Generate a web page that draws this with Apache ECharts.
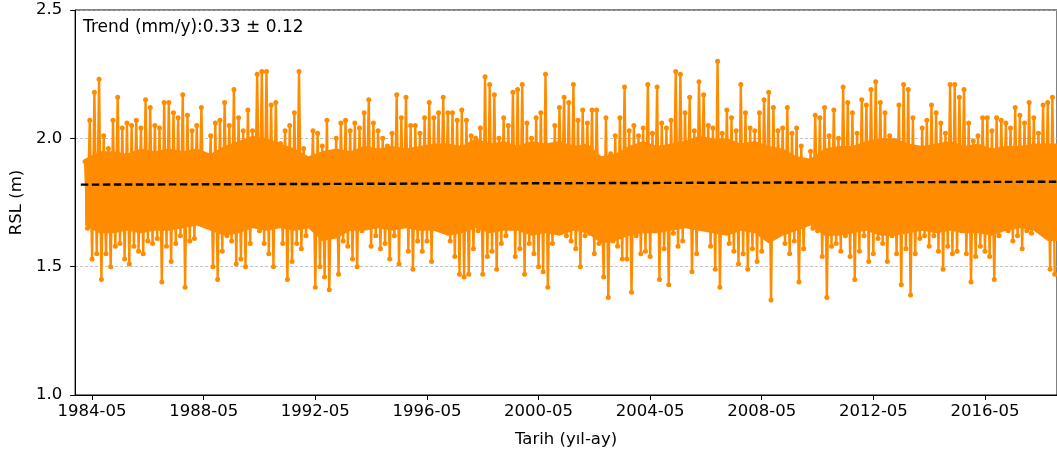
<!DOCTYPE html>
<html>
<head>
<meta charset="utf-8">
<script src="https://cdn.jsdelivr.net/npm/echarts/dist/echarts.min.js"></script>
<style>
html,body{margin:0;padding:0;background:#fff;}
#chart{width:1057px;height:457px;}
</style>
</head>
<body>
<div id="chart"></div>
<script>
// Series start (Feb 1984) and sampling step (2 months) in decimal years
const startYear = 1984 + 1/12;
const stepYears = 1/6;

// Highest RSL (m) in each 2-month window
const highs = [
  1.91,2.07,2.18,2.23,2.01,1.96,2.07,2.16,2.04,2.06,2.05,2.07,2.04,2.15,2.12,2.05,2.04,2.14,
  2.14,2.10,2.08,2.17,2.09,2.03,2.05,2.12,1.91,2.01,2.06,2.07,2.14,2.05,2.19,2.08,2.03,2.11,2.03,2.25,2.26,2.26,
  2.13,2.14,1.98,2.03,2.05,2.10,2.26,1.96,1.91,2.03,2.02,1.97,2.07,1.93,2.00,2.06,2.07,2.03,2.06,2.04,2.10,
  2.15,2.06,2.03,2.00,1.97,2.02,2.17,2.08,2.16,2.05,2.05,2.02,2.08,2.14,2.08,2.10,2.16,2.10,2.10,2.07,2.11,
  2.07,2.01,2.00,2.04,2.24,2.21,2.17,2.00,2.08,2.05,2.18,2.19,2.21,2.06,2.00,2.08,2.10,2.25,1.97,2.05,2.12,
  2.16,2.14,2.21,2.07,2.11,2.06,2.11,2.11,1.89,2.08,1.94,2.01,2.08,2.20,2.03,2.05,2.01,2.04,2.21,2.02,2.20,
  2.06,2.04,2.07,2.26,2.25,2.10,2.16,2.03,2.22,2.17,2.05,2.04,2.30,2.02,2.11,2.08,2.03,2.21,2.10,2.04,2.03,
  2.10,2.15,2.18,2.12,2.03,2.04,2.12,2.02,2.04,1.97,1.91,1.95,2.09,2.08,2.12,2.01,2.11,2.00,2.20,2.14,2.10,
  2.02,2.15,2.13,2.19,2.22,2.14,2.10,2.01,1.99,2.13,2.21,2.19,2.08,1.95,2.04,2.07,2.13,2.10,2.06,2.02,2.21,
  2.21,2.16,2.19,2.06,1.99,2.01,2.08,2.08,2.03,2.08,2.07,2.06,2.04,2.12,2.09,2.06,2.14,2.08,2.02,2.13,2.14,2.16
];

// Lowest RSL (m) in each 2-month window
const lows = [
  1.65,1.53,1.55,1.45,1.55,1.50,1.58,1.59,1.53,1.51,1.58,1.56,1.55,1.60,1.59,1.61,1.44,1.58,
  1.52,1.59,1.62,1.42,1.60,1.61,1.68,1.67,1.72,1.50,1.45,1.56,1.62,1.60,1.51,1.53,1.50,1.59,1.68,1.64,1.59,1.55,
  1.50,1.67,1.59,1.45,1.52,1.59,1.57,1.62,1.70,1.42,1.50,1.46,1.41,1.62,1.47,1.60,1.58,1.53,1.50,1.64,1.72,
  1.58,1.62,1.57,1.59,1.53,1.62,1.51,1.67,1.56,1.49,1.60,1.56,1.60,1.52,1.69,1.67,1.69,1.60,1.54,1.47,1.46,
  1.47,1.57,1.64,1.47,1.54,1.56,1.49,1.59,1.62,1.67,1.54,1.57,1.47,1.59,1.55,1.50,1.48,1.42,1.59,1.64,1.71,
  1.62,1.60,1.57,1.50,1.62,1.63,1.55,1.59,1.46,1.38,1.60,1.58,1.53,1.53,1.40,1.62,1.55,1.56,1.54,1.64,1.45,
  1.57,1.43,1.63,1.58,1.60,1.66,1.48,1.55,1.72,1.65,1.58,1.49,1.42,1.64,1.59,1.56,1.51,1.55,1.49,1.57,1.52,
  1.56,1.68,1.37,1.63,1.64,1.59,1.55,1.60,1.44,1.57,1.70,1.65,1.64,1.54,1.38,1.58,1.59,1.56,1.62,1.54,1.45,
  1.56,1.62,1.52,1.55,1.61,1.59,1.52,1.62,1.55,1.43,1.57,1.39,1.55,1.61,1.62,1.58,1.62,1.56,1.49,1.58,1.55,
  1.56,1.64,1.55,1.44,1.54,1.58,1.56,1.54,1.45,1.62,1.69,1.64,1.60,1.62,1.57,1.64,1.63,1.68,1.74,1.62,1.49,1.47
];

// Dense (solid) core of the daily series, read every half year
const coreStart = 1984 + 1/12;
const coreStep = 0.5;
const coreTop = [
  1.92,1.95,1.95,1.94,1.96,1.95,1.96,1.95,1.96,1.94,
  1.97,1.99,2.01,2.00,1.98,1.96,1.93,1.95,1.96,1.95,
  1.97,1.96,1.97,1.96,1.97,1.98,1.98,1.97,2.00,1.98,
  1.99,1.97,1.99,1.98,1.99,1.97,1.98,1.93,1.94,1.97,
  1.99,1.97,1.98,1.99,2.01,2.00,2.00,1.98,1.99,1.97,
  1.96,1.93,1.92,1.96,1.97,1.97,1.99,2.00,2.00,1.98,
  1.97,1.98,1.99,1.97,1.98,1.96,1.97,1.97,1.98,1.98,1.98
];
const coreBottom = [
  1.66,1.63,1.63,1.64,1.63,1.64,1.64,1.65,1.66,1.64,
  1.62,1.63,1.65,1.64,1.65,1.64,1.65,1.60,1.61,1.64,
  1.64,1.65,1.64,1.65,1.64,1.64,1.62,1.63,1.65,1.63,
  1.64,1.64,1.62,1.63,1.62,1.64,1.63,1.59,1.60,1.62,
  1.63,1.63,1.64,1.65,1.64,1.63,1.62,1.64,1.63,1.59,
  1.62,1.64,1.66,1.62,1.62,1.63,1.64,1.62,1.62,1.63,
  1.64,1.63,1.64,1.63,1.63,1.62,1.64,1.65,1.64,1.60,1.60
];

// Linear trend line end points [decimal year, RSL m]
const trendStart = [1983.93, 1.8195];
const trendEnd = [2018.92, 1.8310];

// Tick positions (decimal years) and labels
const xTickYears = [1984, 1988, 1992, 1996, 2000, 2004, 2008, 2012, 2016];
const xTickMonth = 5;
const yTicks = [1.0, 1.5, 2.0, 2.5];

const trendText = 'Trend (mm/y):0.33 \u00b1 0.12';
const xName = 'Tarih (y\u0131l-ay)';
const yName = 'RSL (m)';

const xTickValues = xTickYears.map(y => y + (xTickMonth - 1) / 12);

const seriesData = [];
for (let i = 0; i < highs.length; i++) {
  const t = startYear + i * stepYears;
  seriesData.push([t, highs[i]]);
  seriesData.push([t + stepYears / 2, lows[i]]);
}
const coreTopPts = coreTop.map((v, i) => [coreStart + i * coreStep, v]);
const coreBotPts = coreBottom.map((v, i) => [coreStart + i * coreStep, v]);

function fmtYM(v) {
  let y = Math.floor(v + 1e-6);
  let m = Math.round((v - y) * 12) + 1;
  if (m > 12) { m -= 12; y += 1; }
  return y + '-' + (m < 10 ? '0' + m : m);
}

const font = 'DejaVu Sans';
const chart = echarts.init(document.getElementById('chart'), null, {renderer: 'canvas'});
chart.setOption({
  animation: false,
  backgroundColor: '#ffffff',
  grid: {
    left: 75, top: 10, width: 985, height: 385,
    show: true, borderColor: '#000', borderWidth: 1, backgroundColor: 'transparent',
    containLabel: false
  },
  graphic: [{
    type: 'text', left: 83, top: 19,
    style: {text: trendText, font: '17px "DejaVu Sans"', fill: '#000'}
  }],
  xAxis: {
    type: 'value',
    min: 1983.726, max: 2018.915,
    name: xName, nameLocation: 'middle', nameGap: 36,
    nameTextStyle: {fontFamily: font, fontSize: 16.5, color: '#000'},
    axisLine: {show: true, onZero: false, lineStyle: {color: '#000', width: 1}},
    axisTick: {show: true, inside: false, length: 5, lineStyle: {color: '#000', width: 1}, customValues: xTickValues},
    axisLabel: {
      show: true, margin: 8, color: '#000', fontFamily: font, fontSize: 16.5,
      customValues: xTickValues, formatter: v => fmtYM(v),
      showMinLabel: true, showMaxLabel: true
    },
    splitLine: {show: false}
  },
  yAxis: {
    type: 'value',
    min: 1.0, max: 2.5, interval: 0.5,
    name: yName, nameLocation: 'middle', nameGap: 49, nameRotate: 90,
    nameTextStyle: {fontFamily: font, fontSize: 16.5, color: '#000'},
    axisLine: {show: true, onZero: false, lineStyle: {color: '#000', width: 1}},
    axisTick: {show: true, inside: false, length: 5, lineStyle: {color: '#000', width: 1}, customValues: yTicks},
    axisLabel: {
      margin: 13, color: '#000', fontFamily: font, fontSize: 16.5,
      customValues: yTicks, formatter: v => v.toFixed(1)
    },
    splitLine: {show: true, lineStyle: {color: '#b0b0b0', width: 0.8, type: [3, 2]}}
  },
  series: [
    {
      type: 'custom',
      data: [coreTopPts[0]],
      clip: true, silent: true, z: 1,
      renderItem: function (params, api) {
        const pts = coreTopPts.map(p => api.coord(p))
          .concat(coreBotPts.slice().reverse().map(p => api.coord(p)));
        return {type: 'polygon', shape: {points: pts}, style: {fill: '#ff8c00'}};
      }
    },
    {
      type: 'line',
      data: seriesData,
      showSymbol: true, showAllSymbol: true,
      symbol: 'circle', symbolSize: 5,
      itemStyle: {color: '#ff8c00', borderWidth: 0},
      lineStyle: {color: '#ff8c00', width: 2.4, join: 'round'},
      clip: true, silent: true, z: 2
    },
    {
      type: 'line',
      data: [trendStart, trendEnd],
      showSymbol: false,
      lineStyle: {color: '#000', width: 2.4, type: [7.5, 3.5]},
      clip: true, silent: true, z: 3
    }
  ]
});
</script>
</body>
</html>
